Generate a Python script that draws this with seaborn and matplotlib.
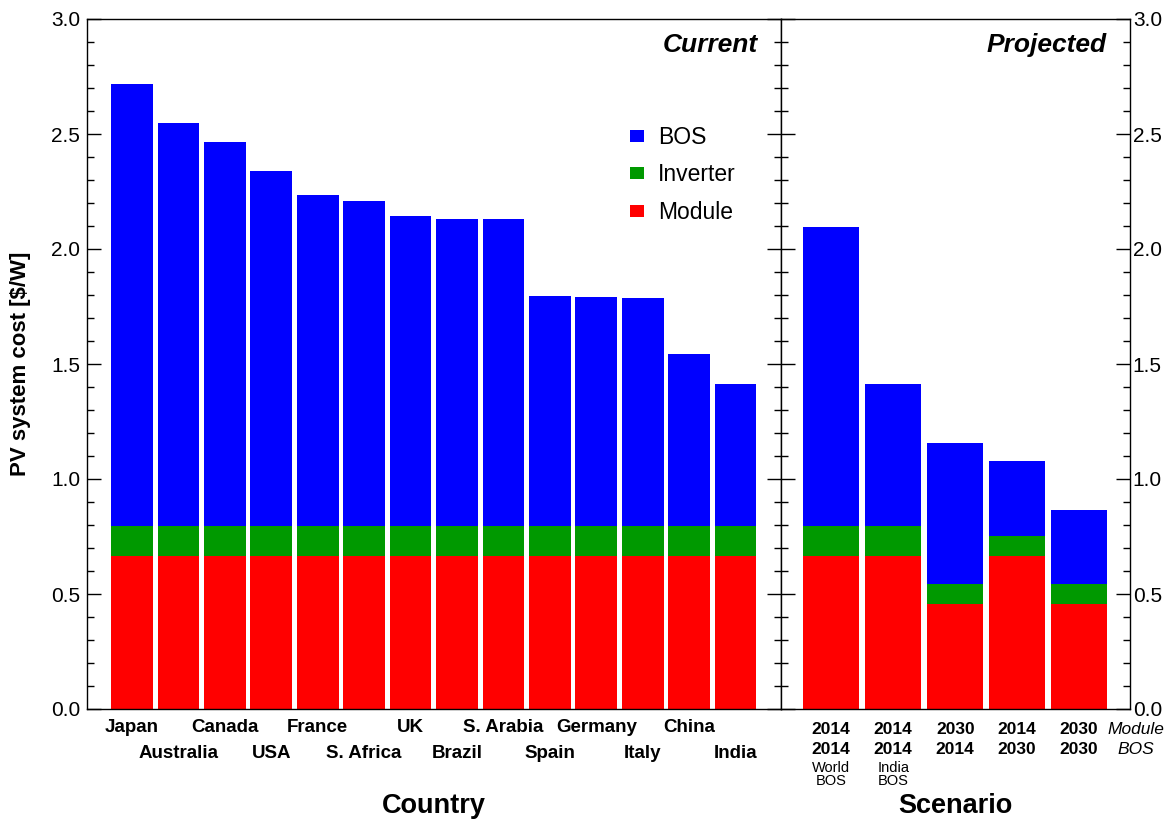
import matplotlib
matplotlib.use("Agg")
import matplotlib.pyplot as plt
import matplotlib.transforms as mtransforms
from matplotlib.patches import Patch
from matplotlib.ticker import MultipleLocator, FormatStrFormatter
import numpy as np
import pandas as pd
import seaborn as sns

# ---- data: cost components in $/W ----
countries = ["Japan", "Australia", "Canada", "USA", "France", "S. Africa", "UK",
             "Brazil", "S. Arabia", "Spain", "Germany", "Italy", "China", "India"]
country_module = [0.667, 0.667, 0.667, 0.667, 0.667, 0.667, 0.667,
                  0.667, 0.667, 0.667, 0.667, 0.667, 0.667, 0.667]
country_inverter = [0.13, 0.13, 0.13, 0.13, 0.13, 0.13, 0.13,
                    0.13, 0.13, 0.13, 0.13, 0.13, 0.13, 0.13]
country_bos = [1.920, 1.752, 1.669, 1.543, 1.438, 1.412, 1.346,
               1.333, 1.333, 0.999, 0.994, 0.990, 0.746, 0.616]

scenarios = ["2014 module, world BOS", "2014 module, India BOS",
             "2030 module, 2014 BOS", "2014 module, 2030 BOS",
             "2030 module, 2030 BOS"]
scenario_module_year = ["2014", "2014", "2030", "2014", "2030"]
scenario_bos_year = ["2014", "2014", "2014", "2030", "2030"]
scenario_note = ["World\nBOS", "India\nBOS", "", "", ""]
scenario_module = [0.667, 0.667, 0.458, 0.667, 0.458]
scenario_inverter = [0.13, 0.13, 0.087, 0.087, 0.087]
scenario_bos = [1.299, 0.616, 0.612, 0.324, 0.320]

BLUE, GREEN, RED = "#0000ff", "#009900", "#ff0000"

sns.set_theme(style="ticks")
plt.rcParams["font.family"] = ["Liberation Sans", "DejaVu Sans"]
plt.rcParams["axes.edgecolor"] = "black"
plt.rcParams["axes.linewidth"] = 1.0
plt.rcParams["text.color"] = "black"
plt.rcParams["axes.labelcolor"] = "black"
plt.rcParams["xtick.color"] = "black"
plt.rcParams["ytick.color"] = "black"


def stacked_frame(names, module, inverter, bos):
    df = pd.DataFrame({"name": names, "module": module,
                       "inverter": inverter, "bos": bos})
    df["lower"] = df["module"]
    df["middle"] = df["module"] + df["inverter"]
    df["total"] = df["middle"] + df["bos"]
    return df


def draw_stack(ax, df):
    for col, colour in [("total", BLUE), ("middle", GREEN), ("lower", RED)]:
        sns.barplot(data=df, x="name", y=col, order=list(df["name"]), ax=ax,
                    color=colour, saturation=1, width=0.9, linewidth=0,
                    errorbar=None)


W, H = 1173, 823
fig = plt.figure(figsize=(W / 100, H / 100), dpi=100)
ax1 = fig.add_axes([87 / W, 114 / H, 694 / W, 690 / H])
ax2 = fig.add_axes([781 / W, 114 / H, 349 / W, 690 / H])

cdf = stacked_frame(countries, country_module, country_inverter, country_bos)
sdf = stacked_frame(scenarios, scenario_module, scenario_inverter, scenario_bos)
draw_stack(ax1, cdf)
draw_stack(ax2, sdf)

for ax in (ax1, ax2):
    ax.set_ylim(0, 3.0)
    ax.yaxis.set_major_locator(MultipleLocator(0.5))
    ax.yaxis.set_minor_locator(MultipleLocator(0.1))
    ax.yaxis.set_major_formatter(FormatStrFormatter("%.1f"))
    ax.set_xlabel("")
    ax.set_ylabel("")
    ax.tick_params(axis="x", bottom=False, labelbottom=False)
    for sp in ax.spines.values():
        sp.set_visible(True)
        sp.set_color("black")
        sp.set_linewidth(1.0)

ax1.set_xlim(-0.97, 13.98)
ax2.set_xlim(-0.81, 4.82)

ax1.tick_params(axis="y", which="both", direction="in", left=True, right=True,
                labelleft=True, labelright=False, labelsize=15, pad=5,
                colors="black")
ax2.tick_params(axis="y", which="both", direction="in", left=True, right=True,
                labelleft=False, labelright=True, labelsize=15, pad=2,
                colors="black")
for ax in (ax1, ax2):
    ax.tick_params(axis="y", which="major", length=10, width=1.0)
    ax.tick_params(axis="y", which="minor", length=5, width=1.0)

ax1.set_ylabel("PV system cost [$/W]", fontsize=16, fontweight="bold",
               color="black")
ax1.yaxis.set_label_coords(-0.081, 0.5)

# panel titles
ax1.text(0.967, 0.963, "Current", transform=ax1.transAxes, ha="right",
         va="center", fontsize=19, fontweight="bold", fontstyle="italic")
ax2.text(0.934, 0.963, "Projected", transform=ax2.transAxes, ha="right",
         va="center", fontsize=19, fontweight="bold", fontstyle="italic")

# legend
handles = [Patch(facecolor=BLUE, edgecolor="none", label="BOS"),
           Patch(facecolor=GREEN, edgecolor="none", label="Inverter"),
           Patch(facecolor=RED, edgecolor="none", label="Module")]
ax1.legend(handles=handles, loc="upper left", bbox_to_anchor=(0.782, 0.845),
           frameon=False, fontsize=16.5, handlelength=0.62, handleheight=0.42,
           handletextpad=0.6, labelspacing=0.63, borderpad=0,
           borderaxespad=0)

# staggered country labels
trans1 = mtransforms.blended_transform_factory(ax1.transData, ax1.transAxes)
for i, name in enumerate(countries):
    y = -0.0275 if i % 2 == 0 else -0.064
    ax1.text(i, y, name, transform=trans1, ha="center", va="center",
             fontsize=13.5, fontweight="bold")
ax1.text(0.5, (709 - 806) / 690, "Country", transform=ax1.transAxes,
         ha="center", va="center", fontsize=19.5, fontweight="bold")

# scenario labels: module year, BOS year, note
trans2 = mtransforms.blended_transform_factory(ax2.transData, ax2.transAxes)
for i in range(len(scenarios)):
    ax2.text(i, (709 - 729.5) / 690, scenario_module_year[i], transform=trans2,
             ha="center", va="center", fontsize=12.5, fontweight="bold")
    ax2.text(i, (709 - 749.5) / 690, scenario_bos_year[i], transform=trans2,
             ha="center", va="center", fontsize=12.5, fontweight="bold")
    if scenario_note[i]:
        ax2.text(i, (709 - 774.5) / 690, scenario_note[i], transform=trans2,
                 ha="center", va="center", fontsize=10.5, linespacing=0.95)
ax2.text(1.017, (709 - 729.5) / 690, "Module", transform=ax2.transAxes,
         ha="center", va="center", fontsize=12.5, fontstyle="italic")
ax2.text(1.017, (709 - 749.5) / 690, "BOS", transform=ax2.transAxes,
         ha="center", va="center", fontsize=12.5, fontstyle="italic")
ax2.text(0.5, (709 - 806) / 690, "Scenario", transform=ax2.transAxes,
         ha="center", va="center", fontsize=19.5, fontweight="bold")

fig.savefig("out.png", dpi=100, facecolor="white")
